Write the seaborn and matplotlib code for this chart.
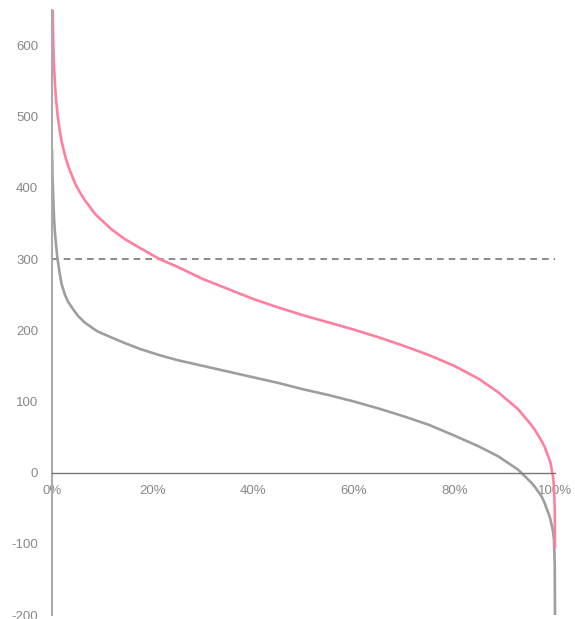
import matplotlib
matplotlib.use("Agg")
import matplotlib.pyplot as plt
import seaborn as sns
import pandas as pd

# Duration-curve data (percent of time vs value)
pct = [0, 0.1, 0.26, 0.4, 0.59, 0.8, 1.1, 1.58, 1.9, 2.57, 3.2, 4.55, 5.2,
       6.5, 8.5, 9.2, 11.8, 14.5, 17.4, 21.4, 25, 30, 35, 40, 45, 50, 55, 60,
       65, 70, 75, 80, 84.8, 88.7, 92.7, 95.3, 96, 97.3, 97.9, 98.9, 99.1,
       99.6, 99.8, 99.95, 100]
pink_values = [760, 667, 602, 572, 546, 525, 503, 479, 466, 446, 431, 407, 398,
               383, 364, 359, 342, 328, 316, 300, 289, 272, 258, 244, 232, 221,
               211, 201, 190, 178, 165, 150, 132, 113, 89, 67, 60, 45, 37, 18,
               14, -5, -20, -50, -105]
grey_values = [454, 415, 384, 358, 337, 320, 300, 278, 265, 250, 240, 226, 220,
               211, 201, 198, 190, 182, 174, 165, 158, 150, 142, 134, 126, 117,
               109, 100, 90, 79, 67, 52, 37, 23, 4, -14, -20, -33, -42, -61,
               -66, -82, -94, -130, -200]
threshold = 300
y_ticks = [-200, -100, 0, 100, 200, 300, 400, 500, 600]
x_ticks = [0, 20, 40, 60, 80, 100]
x_tick_labels = ["0%", "20%", "40%", "60%", "80%", "100%"]

sns.set_theme(style="white")
plt.rcParams['font.family'] = ['Liberation Sans', 'DejaVu Sans']

df = pd.DataFrame({"pct": pct + pct,
                   "value": pink_values + grey_values,
                   "series": ["pink"] * len(pct) + ["grey"] * len(pct)})

fig = plt.figure(figsize=(5.75, 6.19), dpi=100)
ax = fig.add_axes([52 / 575, 4 / 619, 505 / 575, 605 / 619])

sns.lineplot(data=df, x="pct", y="value", hue="series",
             palette={"pink": "#ff7f9f", "grey": "#9e9e9e"},
             hue_order=["grey", "pink"], linewidth=1.9, legend=False,
             estimator=None, sort=False, ax=ax)
for ln in ax.lines:
    ln.set_solid_joinstyle("round")

ax.hlines(threshold, 0, 100, colors="#777777", linestyles=(0, (4, 3)),
          linewidth=1.2, zorder=1)

ax.set_xlim(0, 100.4)
ax.set_ylim(-200, 650)

for s in ["top", "right"]:
    ax.spines[s].set_visible(False)
ax.spines["left"].set_color("#aaaaaa")
ax.spines["left"].set_linewidth(1.5)
ax.spines["bottom"].set_position(("data", 0))
ax.spines["bottom"].set_bounds(0, 100)
ax.spines["bottom"].set_color("#777777")
ax.spines["bottom"].set_linewidth(1.0)

ax.set_yticks(y_ticks)
ax.set_yticklabels([str(v) for v in y_ticks])
ax.set_xticks(x_ticks)
ax.set_xticklabels(x_tick_labels)
ax.tick_params(axis="both", length=0, labelsize=9.5, labelcolor="#888888")
ax.tick_params(axis="y", pad=10)
ax.tick_params(axis="x", pad=9)
for lab in ax.get_xticklabels():
    lab.set_bbox(dict(facecolor="white", edgecolor="none", pad=1.5))

ax.set_xlabel("")
ax.set_ylabel("")
ax.grid(False)

fig.savefig("out.png", dpi=100)
